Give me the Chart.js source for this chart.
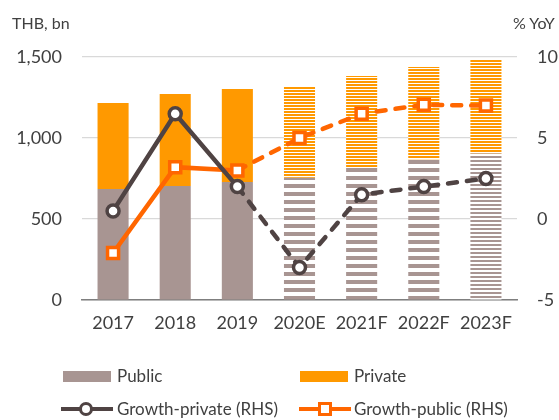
<!DOCTYPE html>
<html>
<head>
<meta charset="utf-8">
<script src="https://cdn.jsdelivr.net/npm/chart.js@4/dist/chart.umd.min.js"></script>
<style>
  html, body { margin: 0; padding: 0; background: #fff; }
  #wrap { position: relative; width: 559px; height: 420px; overflow: hidden; font-family: Lato, "Open Sans", sans-serif; color: #404040; }
  #c { position: absolute; left: 0; top: 0; }
  .t { position: absolute; font-size: 16px; white-space: nowrap; }
  .lg { position: absolute; font-size: 17px; white-space: nowrap; line-height: 20px; }
  .box { position: absolute; height: 11px; width: 48px; }
  .ln { position: absolute; height: 4px; width: 52px; }
  .mk { position: absolute; background: #fff; box-sizing: border-box; }
</style>
</head>
<body>
<div id="wrap">
  <canvas id="c" width="559" height="420"></canvas>
  <div class="t" style="left:12px; top:13px;">THB, bn</div>
  <div class="t" style="left:513px; top:13px;">% YoY</div>

  <div class="box" style="left:63px; top:371px; background:#A89592;"></div>
  <div class="lg" style="left:117px; top:366px;">Public</div>
  <div class="box" style="left:300px; top:371px; background:#FF9900;"></div>
  <div class="lg" style="left:354px; top:366px;">Private</div>

  <div class="ln" style="left:61px; top:407px; background:#4F4343;"></div>
  <div class="mk" style="left:79px; top:402px; width:14px; height:14px; border-radius:50%; border:3.5px solid #4F4343;"></div>
  <div class="lg" style="left:117px; top:399px;">Growth-private (RHS)</div>
  <div class="ln" style="left:299px; top:407px; background:#FF6600;"></div>
  <div class="mk" style="left:318px; top:402px; width:14px; height:14px; border:3.5px solid #FF6600;"></div>
  <div class="lg" style="left:354px; top:399px;">Growth-public (RHS)</div>
</div>
<script>
const categories = ['2017', '2018', '2019', '2020E', '2021F', '2022F', '2023F'];
const publicValues = [685, 704, 728, 755, 815, 867, 905];
const privateValues = [531, 568, 574, 560, 568, 571, 583];
const growthPrivate = [0.5, 6.5, 2.0, -3.0, 1.5, 2.0, 2.5];
const growthPublic = [-2.1, 3.2, 3.0, 5.0, 6.5, 7.05, 7.0];
const leftTicks = [0, 500, 1000, 1500];
const rightTicks = [-5, 0, 5, 10];

function stripes(color, on, off) {
  const c = document.createElement('canvas');
  c.width = 4; c.height = on + off;
  const x = c.getContext('2d');
  x.fillStyle = '#fff'; x.fillRect(0, 0, 4, on + off);
  x.fillStyle = color; x.fillRect(0, 0, 4, on);
  return x.createPattern(c, 'repeat');
}
const PUB = '#A89592', PRI = '#FF9900';
const pubFill = [PUB, PUB, PUB, stripes(PUB, 4, 4), stripes(PUB, 4, 4), stripes(PUB, 4, 4), stripes(PUB, 2, 2)];
const priFill = [PRI, PRI, PRI, stripes(PRI, 2, 1), stripes(PRI, 2, 1), stripes(PRI, 2, 1), stripes(PRI, 2, 1)];

const dashAfter = (dash) => ({ borderDash: ctx => ctx.p0DataIndex >= 2 ? dash : [] });

new Chart(document.getElementById('c'), {
  data: {
    labels: categories,
    datasets: [
      { type: 'line', label: 'Growth-private (RHS)', data: growthPrivate, yAxisID: 'y2', order: 0,
        borderColor: '#4F4343', borderWidth: 4.5, borderCapStyle: 'round', pointStyle: 'circle',
        pointRadius: 6, pointBorderWidth: 3.5, pointBackgroundColor: '#fff', pointBorderColor: '#4F4343',
        segment: dashAfter([9, 10]), tension: 0 },
      { type: 'line', label: 'Growth-public (RHS)', data: growthPublic, yAxisID: 'y2', order: 1,
        borderColor: '#FF6600', borderWidth: 4.5, borderCapStyle: 'round', pointStyle: 'rect',
        pointRadius: 7.8, pointBorderWidth: 3.5, pointBackgroundColor: '#fff', pointBorderColor: '#FF6600',
        segment: dashAfter([9, 10]), tension: 0 },
      { type: 'bar', label: 'Public', data: publicValues, yAxisID: 'y', stack: 's', order: 2,
        backgroundColor: pubFill, categoryPercentage: 1, barPercentage: 0.5 },
      { type: 'bar', label: 'Private', data: privateValues, yAxisID: 'y', stack: 's', order: 3,
        backgroundColor: priFill, categoryPercentage: 1, barPercentage: 0.5 }
    ]
  },
  options: {
    responsive: false,
    animation: false,
    layout: { padding: { top: 57, bottom: 75, left: 0, right: 0 } },
    plugins: { legend: { display: false }, tooltip: { enabled: false } },
    scales: {
      x: {
        stacked: true,
        grid: { display: false, drawTicks: false },
        border: { display: true, color: '#7F7F7F', width: 1.5 },
        ticks: { color: '#404040', font: { family: 'Lato', size: 18 }, padding: 12, maxRotation: 0 },
        afterFit: s => { s.height = 45; }
      },
      y: {
        position: 'left', stacked: true, min: 0, max: 1500,
        afterBuildTicks: s => { s.ticks = leftTicks.map(v => ({ value: v })); },
        grid: { color: '#D9D9D9', lineWidth: 1.2, drawTicks: false },
        border: { display: false },
        ticks: { color: '#404040', font: { family: 'Lato', size: 18 }, padding: 20,
                 callback: v => v.toLocaleString('en-US') },
        afterFit: s => { s.width = 82; }
      },
      y2: {
        position: 'right', min: -5, max: 10,
        afterBuildTicks: s => { s.ticks = rightTicks.map(v => ({ value: v })); },
        grid: { display: false, drawTicks: false },
        border: { display: false },
        ticks: { color: '#404040', font: { family: 'Lato', size: 18 }, padding: 20 },
        afterFit: s => { s.width = 42; }
      }
    }
  }
});
</script>
</body>
</html>
